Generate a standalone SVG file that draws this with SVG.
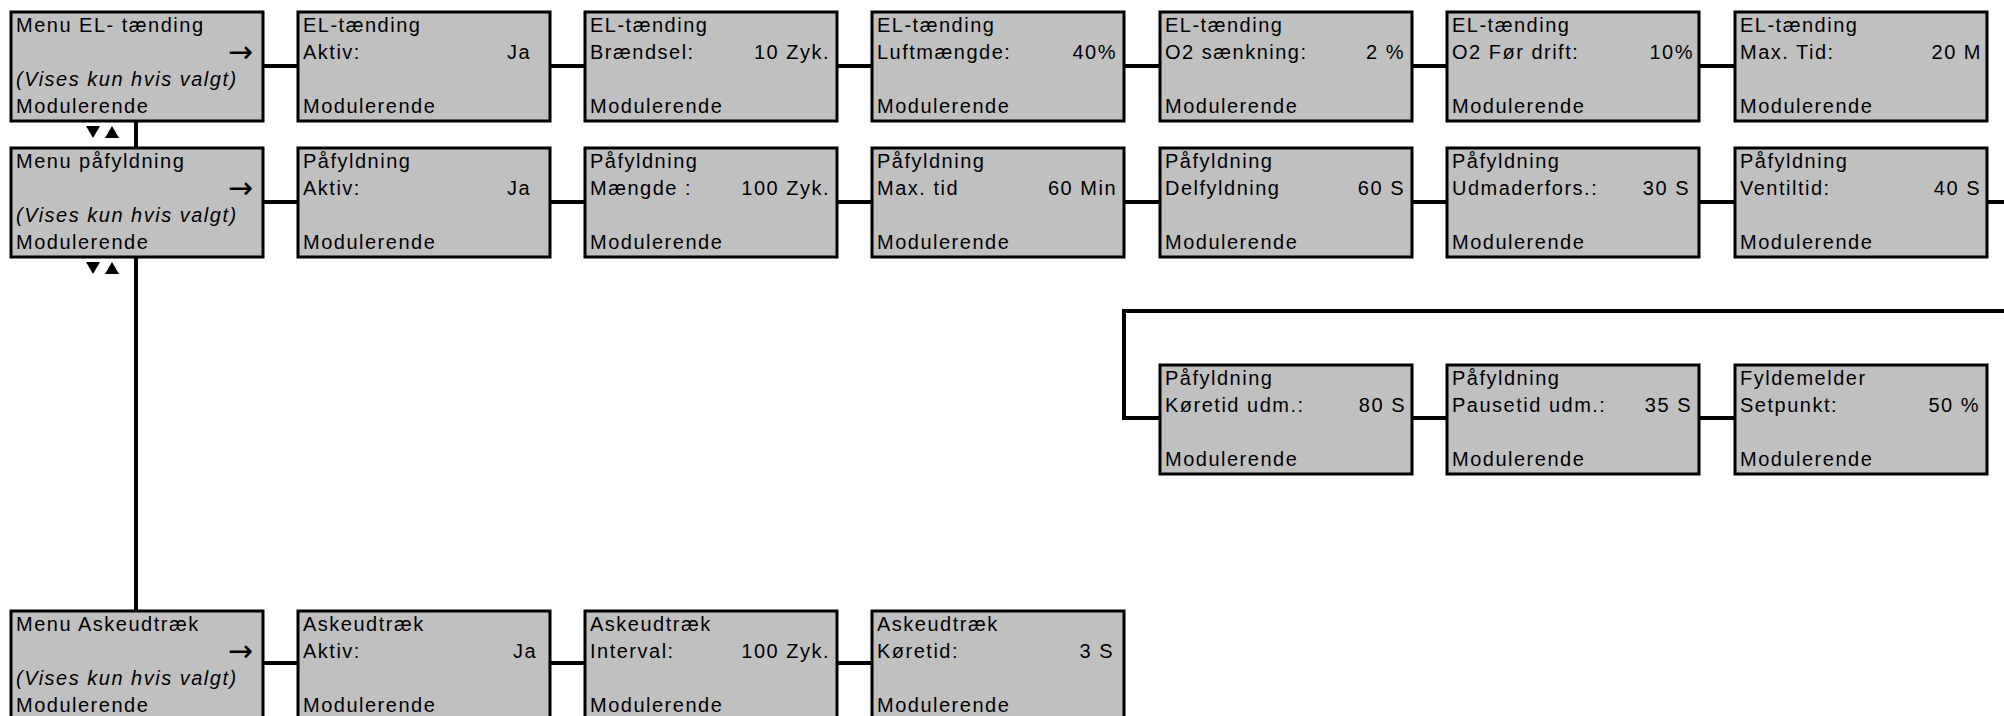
<svg xmlns="http://www.w3.org/2000/svg" xmlns:xlink="http://www.w3.org/1999/xlink" width="2004" height="716" viewBox="0 0 2004 716">
<style>
.box{fill:#c0c0c0;stroke:#000;stroke-width:3}
.t{font-family:"Liberation Sans",Arial,sans-serif;font-size:20px;letter-spacing:1.5px;fill:#000}
.i{font-style:italic}
.v{text-anchor:end}
.a{font-family:"DejaVu Sans",sans-serif;font-size:30px;fill:#000;text-anchor:end}
.c{fill:none;stroke:#000;stroke-width:4}
</style>
<defs>
<g id="tris"><polygon points="86,0 100,0 93,12" fill="#000"/><polygon points="105,12 119,12 112,0" fill="#000"/></g>
</defs>
<rect width="2004" height="716" fill="#fff"/>
<g id="connectors">
<path class="c" d="M136,121 V611"/>
<path class="c" d="M263,66 H298 M550,66 H585 M837,66 H872 M1124,66 H1160 M1412,66 H1447 M1699,66 H1735"/>
<path class="c" d="M263,202 H298 M550,202 H585 M837,202 H872 M1124,202 H1160 M1412,202 H1447 M1699,202 H1735"/>
<path class="c" d="M1987,202 H2030 V311 H1124 V418 H1160"/>
<path class="c" d="M1412,418 H1447 M1699,418 H1735"/>
<path class="c" d="M263,663 H298 M550,663 H585 M837,663 H872"/>
<use xlink:href="#tris" y="126"/>
<use xlink:href="#tris" y="262"/>
</g>
<g id="r1c1" transform="translate(11,12)"><rect class="box" width="252" height="109"/><text class="t" x="5" y="20">Menu EL- tænding</text><text class="a" x="242" y="50">→</text><text class="t i" x="5" y="74">(Vises kun hvis valgt)</text><text class="t" x="5" y="101">Modulerende</text></g>
<g id="r1c2" transform="translate(298,12)"><rect class="box" width="252" height="109"/><text class="t" x="5" y="20">EL-tænding</text><text class="t" x="5" y="47">Aktiv:</text><text class="t v" x="233" y="47">Ja</text><text class="t" x="5" y="101">Modulerende</text></g>
<g id="r1c3" transform="translate(585,12)"><rect class="box" width="252" height="109"/><text class="t" x="5" y="20">EL-tænding</text><text class="t" x="5" y="47">Brændsel:</text><text class="t v" x="245" y="47">10 Zyk.</text><text class="t" x="5" y="101">Modulerende</text></g>
<g id="r1c4" transform="translate(872,12)"><rect class="box" width="252" height="109"/><text class="t" x="5" y="20">EL-tænding</text><text class="t" x="5" y="47">Luftmængde:</text><text class="t v" x="245" y="47">40%</text><text class="t" x="5" y="101">Modulerende</text></g>
<g id="r1c5" transform="translate(1160,12)"><rect class="box" width="252" height="109"/><text class="t" x="5" y="20">EL-tænding</text><text class="t" x="5" y="47">O2 sænkning:</text><text class="t v" x="245" y="47">2 %</text><text class="t" x="5" y="101">Modulerende</text></g>
<g id="r1c6" transform="translate(1447,12)"><rect class="box" width="252" height="109"/><text class="t" x="5" y="20">EL-tænding</text><text class="t" x="5" y="47">O2 Før drift:</text><text class="t v" x="247" y="47">10%</text><text class="t" x="5" y="101">Modulerende</text></g>
<g id="r1c7" transform="translate(1735,12)"><rect class="box" width="252" height="109"/><text class="t" x="5" y="20">EL-tænding</text><text class="t" x="5" y="47">Max. Tid:</text><text class="t v" x="247" y="47">20 M</text><text class="t" x="5" y="101">Modulerende</text></g>
<g id="r2c1" transform="translate(11,148)"><rect class="box" width="252" height="109"/><text class="t" x="5" y="20">Menu påfyldning</text><text class="a" x="242" y="50">→</text><text class="t i" x="5" y="74">(Vises kun hvis valgt)</text><text class="t" x="5" y="101">Modulerende</text></g>
<g id="r2c2" transform="translate(298,148)"><rect class="box" width="252" height="109"/><text class="t" x="5" y="20">Påfyldning</text><text class="t" x="5" y="47">Aktiv:</text><text class="t v" x="233" y="47">Ja</text><text class="t" x="5" y="101">Modulerende</text></g>
<g id="r2c3" transform="translate(585,148)"><rect class="box" width="252" height="109"/><text class="t" x="5" y="20">Påfyldning</text><text class="t" x="5" y="47">Mængde :</text><text class="t v" x="245" y="47">100 Zyk.</text><text class="t" x="5" y="101">Modulerende</text></g>
<g id="r2c4" transform="translate(872,148)"><rect class="box" width="252" height="109"/><text class="t" x="5" y="20">Påfyldning</text><text class="t" x="5" y="47">Max. tid</text><text class="t v" x="245" y="47">60 Min</text><text class="t" x="5" y="101">Modulerende</text></g>
<g id="r2c5" transform="translate(1160,148)"><rect class="box" width="252" height="109"/><text class="t" x="5" y="20">Påfyldning</text><text class="t" x="5" y="47">Delfyldning</text><text class="t v" x="245" y="47">60 S</text><text class="t" x="5" y="101">Modulerende</text></g>
<g id="r2c6" transform="translate(1447,148)"><rect class="box" width="252" height="109"/><text class="t" x="5" y="20">Påfyldning</text><text class="t" x="5" y="47">Udmaderfors.:</text><text class="t v" x="243" y="47">30 S</text><text class="t" x="5" y="101">Modulerende</text></g>
<g id="r2c7" transform="translate(1735,148)"><rect class="box" width="252" height="109"/><text class="t" x="5" y="20">Påfyldning</text><text class="t" x="5" y="47">Ventiltid:</text><text class="t v" x="246" y="47">40 S</text><text class="t" x="5" y="101">Modulerende</text></g>
<g id="r3c5" transform="translate(1160,365)"><rect class="box" width="252" height="109"/><text class="t" x="5" y="20">Påfyldning</text><text class="t" x="5" y="47">Køretid udm.:</text><text class="t v" x="246" y="47">80 S</text><text class="t" x="5" y="101">Modulerende</text></g>
<g id="r3c6" transform="translate(1447,365)"><rect class="box" width="252" height="109"/><text class="t" x="5" y="20">Påfyldning</text><text class="t" x="5" y="47">Pausetid udm.:</text><text class="t v" x="245" y="47">35 S</text><text class="t" x="5" y="101">Modulerende</text></g>
<g id="r3c7" transform="translate(1735,365)"><rect class="box" width="252" height="109"/><text class="t" x="5" y="20">Fyldemelder</text><text class="t" x="5" y="47">Setpunkt:</text><text class="t v" x="245" y="47">50 %</text><text class="t" x="5" y="101">Modulerende</text></g>
<g id="r4c1" transform="translate(11,611)"><rect class="box" width="252" height="109"/><text class="t" x="5" y="20">Menu Askeudtræk</text><text class="a" x="242" y="50">→</text><text class="t i" x="5" y="74">(Vises kun hvis valgt)</text><text class="t" x="5" y="101">Modulerende</text></g>
<g id="r4c2" transform="translate(298,611)"><rect class="box" width="252" height="109"/><text class="t" x="5" y="20">Askeudtræk</text><text class="t" x="5" y="47">Aktiv:</text><text class="t v" x="239" y="47">Ja</text><text class="t" x="5" y="101">Modulerende</text></g>
<g id="r4c3" transform="translate(585,611)"><rect class="box" width="252" height="109"/><text class="t" x="5" y="20">Askeudtræk</text><text class="t" x="5" y="47">Interval:</text><text class="t v" x="245" y="47">100 Zyk.</text><text class="t" x="5" y="101">Modulerende</text></g>
<g id="r4c4" transform="translate(872,611)"><rect class="box" width="252" height="109"/><text class="t" x="5" y="20">Askeudtræk</text><text class="t" x="5" y="47">Køretid:</text><text class="t v" x="242" y="47">3 S</text><text class="t" x="5" y="101">Modulerende</text></g>
</svg>
